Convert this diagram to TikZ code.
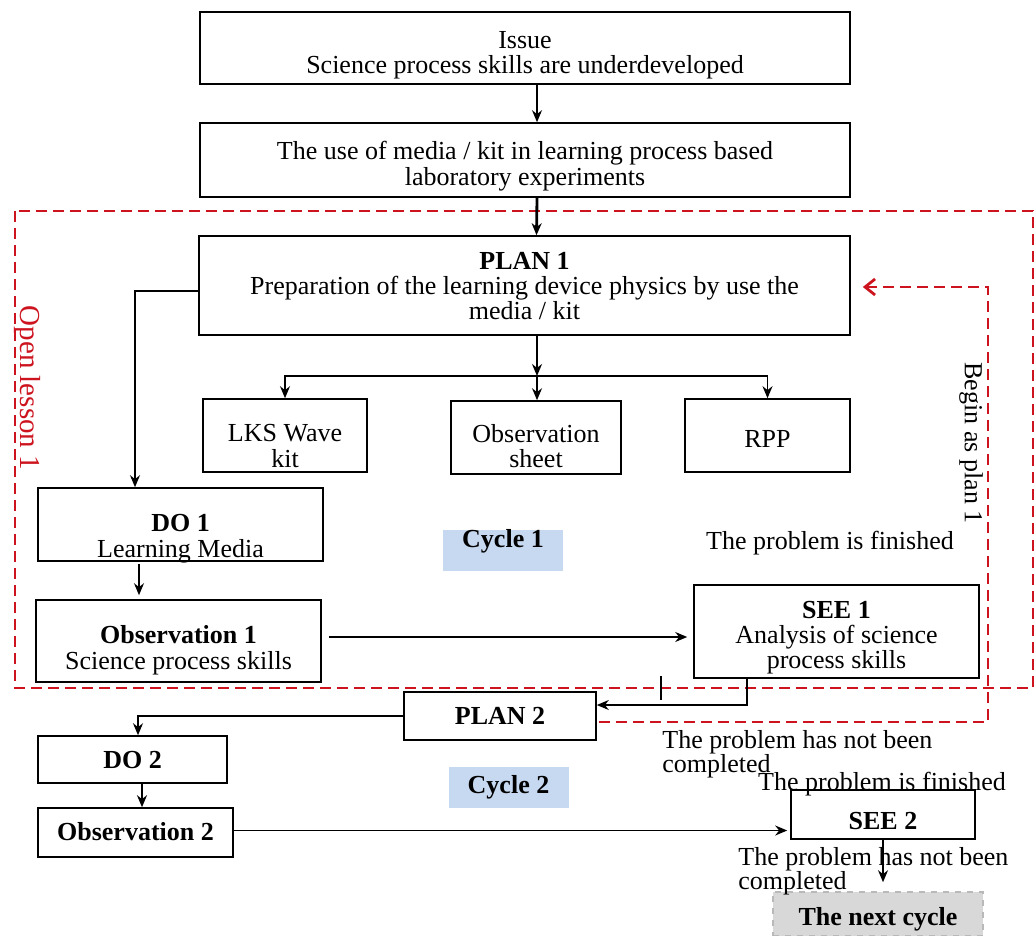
\documentclass[tikz,border=0pt]{standalone}
\usepackage{fontspec}
\setmainfont{Liberation Serif}
\usetikzlibrary{positioning,arrows.meta}

\definecolor{lessonred}{RGB}{205,20,30}
\definecolor{cyclebg}{RGB}{198,217,240}
\definecolor{nextbg}{RGB}{216,216,216}

% text of a box, set lower than the middle of the box
\newcommand{\sunk}[2]{\raisebox{-#1}[\height][\depth]{\begin{tabular}{@{}c@{}}#2\end{tabular}}}

\tikzset{
  box/.style={draw, line width=0.8pt, align=center, inner sep=0pt, font=\fontsize{13}{12}\selectfont},
  arr/.style={-{Stealth[length=6pt,width=5pt]}, line width=0.75pt},
  lesson/.style={draw=lessonred, line width=1.4pt, dash pattern=on 5.5pt off 3pt},
  cyclebox/.style={fill=cyclebg, minimum width=60pt, minimum height=20.5pt, inner sep=0pt, font=\bfseries\fontsize{13}{12}\selectfont},
  note/.style={font=\fontsize{13}{12}\selectfont, inner sep=0pt, align=left},
}

\begin{document}
\begin{tikzpicture}[x=0.5pt, y=-0.5pt]
\useasboundingbox (0,0) rectangle (1036,935);

\def\xfork{537}
\def\yfork{376}
\def\xback{988}
\def\yback{287}

% open lesson frame
\draw[lesson] (15,211) rectangle (1033,688);

\node[box, minimum width=325pt, minimum height=36pt] (issue) at (525,48) {\sunk{4pt}{Issue\\Science process skills are underdeveloped}};
\node[box, minimum width=325pt, minimum height=37pt] (media) at (525,160) {\sunk{3.5pt}{The use of media / kit in learning process based\\laboratory experiments}};
\node[box, minimum width=325.5pt, minimum height=49.5pt] (plan1) at (524.5,285.5) {\sunk{2pt}{\textbf{PLAN 1}\\Preparation of the learning device physics by use the\\media / kit}};

\node[box, minimum width=82pt, minimum height=36.5pt] (lks) at (285,435.5) {\sunk{7pt}{LKS Wave\\kit}};
\node[box, minimum width=85pt, minimum height=36.5pt] (sheet) at (536,437.5) {\sunk{6pt}{Observation\\sheet}};
\node[box, minimum width=82.5pt, minimum height=36.5pt] (rpp) at (767.5,435.5) {\sunk{3.5pt}{RPP}};

\node[box, minimum width=142.5pt, minimum height=36.5pt] (do1) at (180.5,524.5) {\sunk{7.5pt}{\textbf{DO 1}\\Learning Media}};
\node[box, minimum width=142.5pt, minimum height=41pt] (obs1) at (178.5,641) {\sunk{5pt}{\textbf{Observation 1}\\Science process skills}};
\node[box, minimum width=142.5pt, minimum height=46.5pt] (see1) at (836.5,631.5) {\sunk{3.5pt}{\textbf{SEE 1}\\Analysis of science\\process skills}};

\node[box, minimum width=96pt, minimum height=24pt] (plan2) at (500,716) {\sunk{1.5pt}{\textbf{PLAN 2}}};
\node[box, minimum width=94.5pt, minimum height=23.5pt] (do2) at (132.5,759.5) {\sunk{2pt}{\textbf{DO 2}}};
\node[box, minimum width=97.5pt, minimum height=24.5pt] (obs2) at (135.5,832.5) {\sunk{1.5pt}{\textbf{Observation 2}}};
\node[box, minimum width=92pt, minimum height=24.5pt] (see2) at (883,814.5) {\sunk{5pt}{\textbf{SEE 2}}};
\node[box, draw=gray!55, dashed, fill=nextbg, minimum width=105pt, minimum height=22pt] (next) at (878,914) {\sunk{3pt}{\textbf{The next cycle}}};

\node[cyclebox] (cycle1) at (503,550.5) {\sunk{-4pt}{Cycle 1}};
\node[cyclebox] (cycle2) at (508.5,787.5) {Cycle 2};

\node[note] (fin1) at (830,543) {The problem is finished};
\node[note, anchor=north west] (open1) at (662,730) {The problem has not been\\completed};
\node[note] (fin2) at (882,784) {The problem is finished};
\node[note, anchor=north west] (open2) at (738,847) {The problem has not been\\completed};
\node[note, rotate=-90] (begin) at (971,443) {Begin as plan 1};
\node[note, rotate=-90, text=lessonred, font=\fontsize{14.5}{13}\selectfont] (lesson) at (27,388) {Open lesson 1};

\coordinate (fork) at (\xfork,\yfork);
\coordinate (back) at (\xback,\yback);

\draw[arr] ([xshift=6pt]issue.south) -- ([xshift=6pt]media.north);
\draw[arr, line width=1.4pt] ([xshift=6pt]media.south) -- ([xshift=6pt]plan1.north);
\draw[arr] ([xshift=6.25pt]plan1.south) -- (fork);
\draw[arr] (fork) -| (lks.north);
\draw[arr] (fork) -- (fork |- sheet.north);
\draw[arr] (fork) -| (rpp.north);
\draw[arr] ([yshift=-2.75pt]plan1.west) -| ([xshift=-22.75pt]do1.north);
\draw[arr] ([xshift=-20.75pt,yshift=-1pt]do1.south) -- ([xshift=-20.75pt,yshift=2pt]do1.south |- obs1.north);
\draw[arr] ([xshift=3.5pt,yshift=2pt]obs1.east) -- ([xshift=-3pt,yshift=2pt]obs1.east -| see1.west);
\draw[arr] ([xshift=-44.75pt]see1.south) |- ([yshift=5.5pt]plan2.east);
\draw[line width=0.75pt] (661,676) -- (661,700);
\draw[arr] (plan2.west) -| ([xshift=2.75pt]do2.north);
\draw[arr, line width=1.4pt] ([xshift=4.75pt]do2.south) -- ([xshift=4.75pt]do2.south |- obs2.north);
\draw[arr] ([yshift=1pt]obs2.east) -- ([xshift=-1.5pt,yshift=1pt]obs2.east -| see2.west);
\draw[arr] (see2.south) -- ([yshift=4.5pt]see2.south |- next.north);

% back to plan 1
\draw[lesson, -{Straight Barb[length=5pt,width=8pt]}] ([xshift=1pt,yshift=-3pt]plan2.east) -| (back) -- ([xshift=6pt]back -| plan1.east);

\end{tikzpicture}
\end{document}
